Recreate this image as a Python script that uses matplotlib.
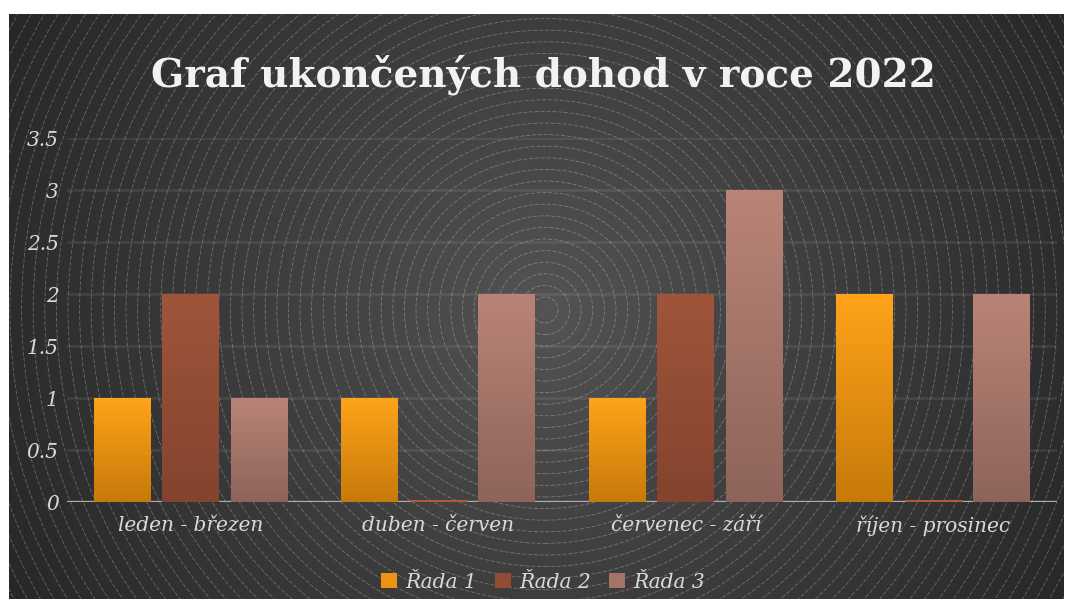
import numpy as np
import matplotlib
matplotlib.use("Agg")
import matplotlib.pyplot as plt
from matplotlib.patches import Circle, Patch
from matplotlib.colors import LinearSegmentedColormap

categories = ["leden - březen", "duben - červen", "červenec - září", "říjen - prosinec"]
series_names = ["Řada 1", "Řada 2", "Řada 3"]
rada1 = [1, 1, 1, 2]
rada2 = [2, 0, 2, 0]
rada3 = [1, 2, 3, 2]
yticks = [0, 0.5, 1, 1.5, 2, 2.5, 3, 3.5]
ytick_labels = ["0", "0.5", "1", "1.5", "2", "2.5", "3", "3.5"]
title = "Graf ukončených dohod v roce 2022"

top_colors = ["#FFA31A", "#A0553B", "#B98477"]
bot_colors = ["#C67A0A", "#84432E", "#8E645A"]
mid_colors = ["#EC9312", "#924C34", "#A47468"]

W, H = 1066, 599
fig = plt.figure(figsize=(W / 100, H / 100), dpi=100, facecolor="white")

# background panel
px0, py_top, px1 = 9, 14, 1064
bg = fig.add_axes([px0 / W, 0, (px1 - px0) / W, (H - py_top) / H])
bw, bh = px1 - px0, H - py_top
bg.set_xlim(0, bw)
bg.set_ylim(0, bh)
bg.axis("off")
cx, cy = 545 - px0, H - 310
yy, xx = np.mgrid[0:bh, 0:bw]
r = np.hypot(xx - cx, (bh - 1 - yy) - cy)
rn = np.clip(r / 620.0, 0, 1)
val = 0.33 - (0.33 - 0.15) * rn ** 0.9
img = np.dstack([val, val, val])
bg.imshow(img, extent=[0, bw, 0, bh], origin="upper", aspect="auto", zorder=0)
for rad in np.arange(13, 800, 11.6):
    bg.add_patch(Circle((cx, cy), rad, fill=False, edgecolor="white", alpha=0.28,
                        lw=0.6, linestyle=(0, (5, 2)), zorder=1))

# main axes
x_left, x_right, y_zero, y_top = 67, 1057, 502, 138
ax = fig.add_axes([x_left / W, (H - y_zero) / H, (x_right - x_left) / W, (y_zero - y_top) / H])
ax.set_facecolor("none")
ax.set_xlim(-0.5, 3.5)
ax.set_ylim(0, 3.5)
for s in ax.spines.values():
    s.set_visible(False)
ax.tick_params(length=0, colors="#D9D9D9")
ax.set_yticks(yticks)
ax.set_yticklabels(ytick_labels, fontsize=14.5, fontstyle="italic", family="DejaVu Serif", color="#D9D9D9")
x = np.arange(len(categories))
ax.set_xticks(x)
ax.set_xticklabels(categories, fontsize=14.5, fontstyle="italic", family="DejaVu Serif", color="#D9D9D9")
ax.tick_params(axis="x", pad=10)
ax.tick_params(axis="y", pad=6)
ax.grid(axis="y", color="white", alpha=0.08, lw=2)
ax.set_axisbelow(True)
ax.axhline(0, color="#ADADAD", lw=2.4, zorder=2)

width = 0.23
offsets = [-0.277, 0, 0.277]
for si, vals in enumerate([rada1, rada2, rada3]):
    cmap = LinearSegmentedColormap.from_list("g%d" % si, [bot_colors[si], top_colors[si]])
    bars = ax.bar(x + offsets[si], vals, width, color=mid_colors[si], zorder=3,
                  edgecolor=bot_colors[si], linewidth=0)
    for b, v in zip(bars, vals):
        if v == 0:
            ax.plot([b.get_x(), b.get_x() + b.get_width()], [0.008, 0.008],
                    color="#B5583A", lw=2.2, zorder=4, solid_capstyle="butt")
            continue
        grad = np.linspace(1, 0, 256).reshape(-1, 1)
        im = ax.imshow(grad, cmap=cmap, extent=[b.get_x(), b.get_x() + b.get_width(), 0, v],
                       aspect="auto", zorder=3.5, vmin=0, vmax=1)
        im.set_clip_path(b)

fig.text(543 / W, (H - 75) / H, title, ha="center", va="center", fontsize=28,
         fontweight="bold", family="DejaVu Serif", color="#F2F2F2")

handles = [Patch(facecolor=mid_colors[i], edgecolor="none") for i in range(3)]
fig.legend(handles, series_names, loc="center", bbox_to_anchor=(543 / W, 17 / H), ncol=3,
           frameon=False, handlelength=0.8, handleheight=0.8, handletextpad=0.4,
           columnspacing=0.9, prop={"family": "DejaVu Serif", "style": "italic", "size": 14.5},
           labelcolor="#D9D9D9")

fig.savefig("out.png", dpi=100, facecolor="white")
